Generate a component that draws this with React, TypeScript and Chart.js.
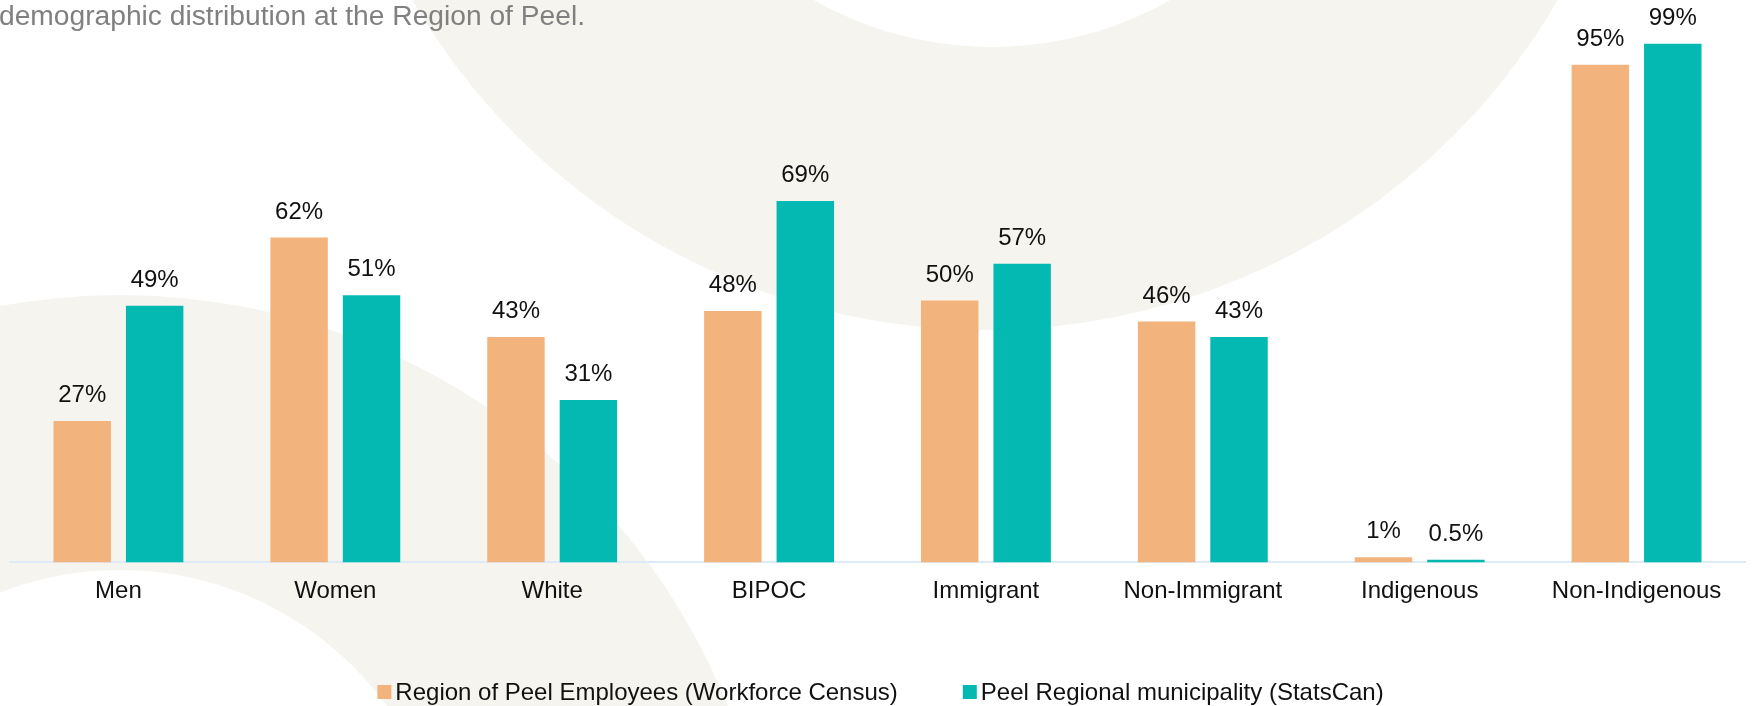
import React, { useEffect, useRef } from 'react';
import { Chart, registerables } from 'chart.js';

Chart.register(...registerables);

// ---- data ----
const categories = ['Men', 'Women', 'White', 'BIPOC', 'Immigrant', 'Non-Immigrant', 'Indigenous', 'Non-Indigenous'];
const employeesValues = [27, 62, 43, 48, 50, 46, 1, 95];
const municipalityValues = [49, 51, 31, 69, 57, 43, 0.5, 99];
const seriesNames = ['Region of Peel Employees (Workforce Census)', 'Peel Regional municipality (StatsCan)'];
const titleText = 'demographic distribution at the Region of Peel.';

// ---- styles ----
const W = 1752;
const H = 706;
const FONT = "'Liberation Sans', Arial, Helvetica, sans-serif";
const ORANGE = '#F2B47C';
const TEAL = '#05B9B3';
const BEIGE = '#F5F4EF';
const AXIS = '#DCEBF7';
const TEXT = '#111111';

const backgroundPlugin = {
  id: 'bgShapes',
  beforeDraw(chart: any) {
    const ctx = chart.ctx as CanvasRenderingContext2D;
    ctx.save();
    ctx.fillStyle = '#ffffff';
    ctx.fillRect(0, 0, chart.width, chart.height);
    ctx.fillStyle = BEIGE;
    // top ring
    ctx.beginPath();
    ctx.arc(985, -332, 662, 0, Math.PI * 2);
    ctx.moveTo(992 + 362, -315);
    ctx.arc(992, -315, 362, 0, Math.PI * 2);
    ctx.fill('evenodd');
    // lower-left ring
    ctx.beginPath();
    ctx.arc(120, 950, 655, 0, Math.PI * 2);
    ctx.moveTo(120 + 330, 900);
    ctx.arc(120, 900, 330, 0, Math.PI * 2);
    ctx.fill('evenodd');
    ctx.restore();
  },
};

const valueLabelPlugin = {
  id: 'valueLabels',
  afterDatasetsDraw(chart: any) {
    const ctx = chart.ctx as CanvasRenderingContext2D;
    ctx.save();
    ctx.font = `24px ${FONT}`;
    ctx.fillStyle = TEXT;
    ctx.textAlign = 'center';
    ctx.textBaseline = 'middle';
    chart.data.datasets.forEach((ds: any, di: number) => {
      const meta = chart.getDatasetMeta(di);
      meta.data.forEach((el: any, i: number) => {
        ctx.fillText(`${ds.data[i]}%`, el.x, el.y - 25.5);
      });
    });
    ctx.restore();
  },
};

const legendPlugin = {
  id: 'customLegend',
  afterDraw(chart: any) {
    const ctx = chart.ctx as CanvasRenderingContext2D;
    ctx.save();
    ctx.font = `24px ${FONT}`;
    ctx.textBaseline = 'middle';
    ctx.textAlign = 'left';
    const box = 14;
    const gapText = 4;
    const gapItem = 65;
    const items = chart.data.datasets.map((ds: any) => ({
      text: ds.label as string,
      color: ds.backgroundColor as string,
      w: ctx.measureText(ds.label).width,
    }));
    let total = 0;
    items.forEach((it: any, i: number) => {
      total += box + gapText + it.w + (i < items.length - 1 ? gapItem : 0);
    });
    const ca = chart.chartArea;
    let x = (ca.left + ca.right) / 2 - total / 2 + 3;
    const yMid = 693;
    items.forEach((it: any) => {
      ctx.fillStyle = it.color;
      ctx.fillRect(x, yMid - box / 2 - 1, box, box);
      ctx.fillStyle = TEXT;
      ctx.fillText(it.text, x + box + gapText, yMid);
      x += box + gapText + it.w + gapItem;
    });
    ctx.restore();
  },
};

export default function App() {
  const canvasRef = useRef<HTMLCanvasElement | null>(null);

  useEffect(() => {
    if (!canvasRef.current) return;
    const chart = new Chart(canvasRef.current, {
      type: 'bar',
      data: {
        labels: categories,
        datasets: [
          {
            label: seriesNames[0],
            data: employeesValues,
            backgroundColor: ORANGE,
            borderWidth: 0,
            categoryPercentage: 0.668,
            barPercentage: 0.793,
          },
          {
            label: seriesNames[1],
            data: municipalityValues,
            backgroundColor: TEAL,
            borderWidth: 0,
            categoryPercentage: 0.668,
            barPercentage: 0.793,
          },
        ],
      },
      options: {
        responsive: false,
        animation: false,
        devicePixelRatio: 1,
        layout: { padding: { top: 38.5, left: 10, right: 7, bottom: 84.8 } },
        plugins: {
          legend: { display: false },
          title: { display: false },
          tooltip: { enabled: false },
        },
        scales: {
          x: {
            grid: { display: false, drawTicks: false },
            border: { display: true, color: AXIS, width: 2 },
            ticks: {
              color: TEXT,
              padding: 15,
              font: { family: FONT, size: 24 },
              maxRotation: 0,
              autoSkip: false,
            },
          },
          y: {
            display: false,
            min: 0,
            max: 100,
          },
        },
      },
      plugins: [backgroundPlugin, valueLabelPlugin, legendPlugin],
    });
    return () => chart.destroy();
  }, []);

  return (
    <div style={{ position: 'absolute', left: 0, top: 0, width: W, height: H, overflow: 'hidden', background: '#fff' }}>
      <canvas ref={canvasRef} width={W} height={H} style={{ width: W, height: H, display: 'block' }} />
      <div
        style={{
          position: 'absolute',
          left: -1,
          top: 1,
          fontFamily: FONT,
          fontSize: 28.2,
          lineHeight: '28px',
          color: '#808080',
          whiteSpace: 'nowrap',
          pointerEvents: 'none',
        }}
      >
        {titleText}
      </div>
    </div>
  );
}
